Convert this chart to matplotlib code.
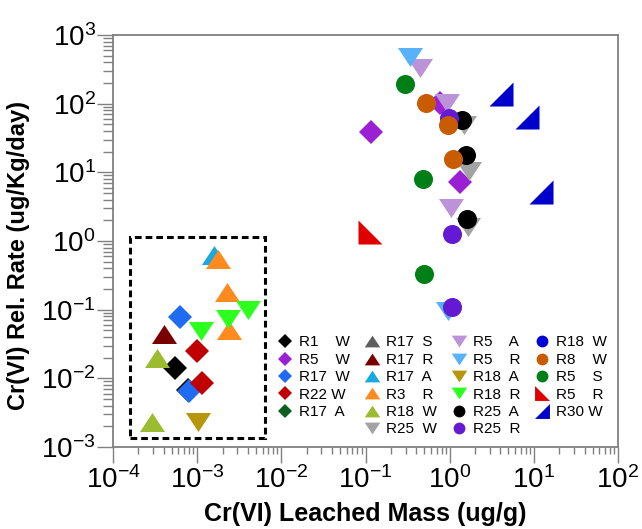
import math
import matplotlib
matplotlib.use("Agg")
import matplotlib.pyplot as plt
from matplotlib.patches import Rectangle
from matplotlib.ticker import LogLocator, FuncFormatter, NullFormatter

plt.rcParams['font.family'] = ['Liberation Sans', 'DejaVu Sans']
plt.rcParams['mathtext.fontset'] = 'custom'
plt.rcParams['mathtext.rm'] = 'Liberation Sans'
plt.rcParams['mathtext.it'] = 'Liberation Sans'

# --- data (leached mass ug/g, release rate ug/Kg/day) ---
r1_w_x = [5.46e-4, 7.7e-4]
r1_w_y = [0.014, 6.76e-3]
r5_w_x = [0.117, 0.767, 1.34]
r5_w_y = [39, 101, 7.3]
r17_w_x = [6.25e-4, 8.0e-4]
r17_w_y = [0.0775, 6.54e-3]
r22_w_x = [9.86e-4, 1.13e-3]
r22_w_y = [0.0253, 8.65e-3]
r17_a_dia_x, r17_a_dia_y = [], []

r17_s_x, r17_s_y = [], []
r17_r_x = [4.0e-4]
r17_r_y = [0.044]
r17_a_x = [1.58e-3]
r17_a_y = [0.625]
r3_r_x = [1.78e-3, 2.28e-3, 2.39e-3]
r3_r_y = [0.552, 0.179, 0.0506]
r18_w_x = [3.33e-4, 2.93e-4]
r18_w_y = [0.020, 2.31e-3]

r25_w_x = [1.48, 1.68, 1.65]
r25_w_y = [48.9, 10.3, 1.62]
r5_a_x = [0.44, 0.937, 1.03]
r5_a_y = [327, 103, 2.99]
r5_r_x = [0.340, 0.946]
r5_r_y = [483, 0.095]
r18_a_x = [1.03e-3]
r18_a_y = [2.29e-3]
r18_r_x = [4.02e-3, 2.32e-3, 1.10e-3]
r18_r_y = [0.099, 0.074, 0.049]

r25_a_x = [1.39, 1.56, 1.59]
r25_a_y = [57.8, 17.9, 2.09]
r25_r_x = [0.98, 1.07, 1.07]
r25_r_y = [62.4, 1.25, 0.11]
r18_wc_x, r18_wc_y = [], []
r8_w_x = [0.524, 0.964, 1.10]
r8_w_y = [101, 48.9, 15.6]
r5_s_x = [0.292, 0.482, 0.495]
r5_s_y = [191, 7.9, 0.33]

r5_rt_x = [0.114]
r5_rt_y = [1.34]
r30_w_x = [4.07, 8.22, 12.3]
r30_w_y = [137, 64.6, 5.22]

# dashed region around the lab-scale samples
box_x = (1.59e-4, 6.4e-3)
box_y = (1.35e-3, 1.156)

# --- marker shapes ---
TRI_UP = [(0, 0.38), (-0.5, -0.38), (0.5, -0.38), (0, 0.38)]
TRI_DN = [(0, -0.38), (-0.5, 0.38), (0.5, 0.38), (0, -0.38)]
RT_LEFT = [(-1, 1), (-1, -1), (1, -1), (-1, 1)]
RT_RIGHT = [(1, 1), (1, -1), (-1, -1), (1, 1)]

DIA, TRI, CIR, RT = 12.2, 18, 13.7, 17.3

series = [
    ("R1    W", r1_w_x, r1_w_y, 'D', DIA, '#000000'),
    ("R5    W", r5_w_x, r5_w_y, 'D', DIA, '#9B1FD3'),
    ("R17  W", r17_w_x, r17_w_y, 'D', DIA, '#1F6BF2'),
    ("R22 W", r22_w_x, r22_w_y, 'D', DIA, '#C00000'),
    ("R17  A", r17_a_dia_x, r17_a_dia_y, 'D', DIA, '#0D5F1F'),
    (None, [], [], None, 0, 'none'),
    ("R17  S", r17_s_x, r17_s_y, TRI_UP, TRI, '#5E5E5E'),
    ("R17  R", r17_r_x, r17_r_y, TRI_UP, TRI, '#7A0000'),
    ("R17  A", r17_a_x, r17_a_y, TRI_UP, TRI, '#19A9E2'),
    ("R3    R", r3_r_x, r3_r_y, TRI_UP, TRI, '#FF8A1F'),
    ("R18  W", r18_w_x, r18_w_y, TRI_UP, TRI, '#9BBB30'),
    ("R25  W", r25_w_x, r25_w_y, TRI_DN, TRI, '#A3A3A3'),
    ("R5    A", r5_a_x, r5_a_y, TRI_DN, TRI, '#BC93D8'),
    ("R5    R", r5_r_x, r5_r_y, TRI_DN, TRI, '#58B2FA'),
    ("R18  A", r18_a_x, r18_a_y, TRI_DN, TRI, '#B8960C'),
    ("R18  R", r18_r_x, r18_r_y, TRI_DN, TRI, '#2DFF1F'),
    ("R25  A", r25_a_x, r25_a_y, 'o', CIR, '#000000'),
    ("R25  R", r25_r_x, r25_r_y, 'o', CIR, '#6419D2'),
    ("R18  W", r18_wc_x, r18_wc_y, 'o', CIR, '#0000D8'),
    ("R8    W", r8_w_x, r8_w_y, 'o', CIR, '#C95B00'),
    ("R5    S", r5_s_x, r5_s_y, 'o', CIR, '#007F17'),
    ("R5    R", r5_rt_x, r5_rt_y, RT_LEFT, RT, '#E00000'),
    ("R30 W", r30_w_x, r30_w_y, RT_RIGHT, RT, '#0000CC'),
    (None, [], [], None, 0, 'none'),
]

fig = plt.figure(figsize=(6.42, 5.29), dpi=100)
ax = fig.add_axes([113 / 642, 82 / 529, 505 / 642, 412 / 529])

handles, labels = [], []
for lab, xs, ys, mk, ms, col in series:
    if lab is None:
        h, = ax.plot([], [], ls='none', marker=None)
        handles.append(h)
        labels.append('')
        continue
    h, = ax.plot(xs, ys, ls='none', marker=mk, markersize=ms,
                 color=col, markeredgewidth=0, zorder=3)
    handles.append(h)
    labels.append(lab)

ax.add_patch(Rectangle((box_x[0], box_y[0]), box_x[1] - box_x[0], box_y[1] - box_y[0],
                       fill=False, edgecolor='black', linewidth=2.2,
                       linestyle=(0, (2.2, 1.3)), zorder=2))

ax.set_xscale('log')
ax.set_yscale('log')
ax.set_xlim(1e-4, 1e2)
ax.set_ylim(1e-3, 1e3)

fmt = FuncFormatter(lambda v, p: r'$\mathregular{10^{%d}}$' % round(math.log10(v)))
for axis in (ax.xaxis, ax.yaxis):
    axis.set_major_locator(LogLocator(base=10, numticks=10))
    axis.set_minor_locator(LogLocator(base=10, subs=range(2, 10), numticks=100))
    axis.set_major_formatter(fmt)
    axis.set_minor_formatter(NullFormatter())

grey = '#808080'
for spine in ax.spines.values():
    spine.set_color(grey)
    spine.set_linewidth(1.3)
ax.tick_params(which='both', direction='out', color=grey, width=1.0, labelsize=20)
ax.tick_params(axis='x', which='major', length=11.5, pad=2)
ax.tick_params(axis='x', which='minor', length=5)
ax.tick_params(axis='y', which='major', length=11.5, pad=1)
ax.tick_params(axis='y', which='minor', length=7)

ax.set_xlabel('Cr(VI) Leached Mass (ug/g)', fontsize=18, fontweight='bold', labelpad=6)
ax.set_ylabel('Cr(VI) Rel. Rate (ug/Kg/day)', fontsize=17, fontweight='bold')
ax.yaxis.set_label_coords(-0.165, 0.465)

leg = ax.legend(handles, labels, ncol=4, loc='lower right', bbox_to_anchor=(1.0, 0.0),
                fontsize=11, markerscale=0.62, handlelength=1.0, handletextpad=0.45,
                columnspacing=0.9, labelspacing=0.22, borderaxespad=0.3,
                frameon=True, fancybox=False, framealpha=1)
leg.get_frame().set_facecolor('white')
leg.get_frame().set_edgecolor('none')
leg.set_zorder(5)

fig.savefig('out.png', dpi=100)
